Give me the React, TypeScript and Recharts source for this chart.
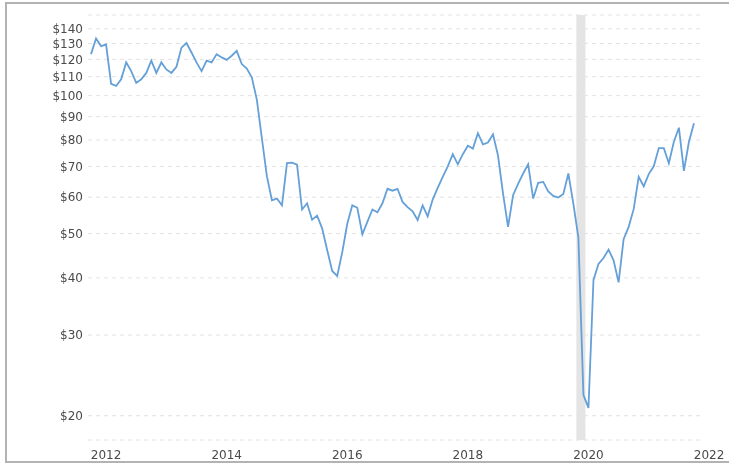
import { LineChart, Line, XAxis, YAxis, CartesianGrid, ReferenceArea } from "recharts";

// monthly closes, Jan..Dec
const price2012 = [123.2, 133.3, 128.3, 129.3, 106.1, 105, 108.6, 118.2, 113.1, 106.6, 108.6, 112.1];
const price2013 = [119.2, 112.1, 118.2, 114.1, 112.1, 115.6, 127.3, 130.3, 124.2, 118.2, 113.1, 119.2];
const price2014 = [118.2, 123.2, 121.2, 119.7, 122.2, 125.2, 117.2, 114.6, 109.6, 98, 80.8, 66.7];
const price2015 = [59.1, 59.6, 57.6, 71.2, 71.4, 70.7, 56.4, 58.2, 53.6, 54.7, 51.3, 46];
const price2016 = [41.4, 40.4, 45.5, 52.5, 57.6, 56.9, 49.8, 53, 56.4, 55.6, 58.2, 62.6];
const price2017 = [62, 62.6, 58.6, 57.1, 55.9, 53.5, 57.6, 54.5, 59.3, 62.9, 66.5, 70.1];
const price2018 = [74.5, 70.8, 74.5, 77.7, 76.6, 82.8, 78.3, 79, 82.3, 74, 61.1, 51.7];
const price2019 = [60.6, 64.2, 67.6, 70.8, 59.6, 64.5, 64.8, 61.8, 60.4, 59.9, 61, 67.6];
const price2020 = [58, 49, 22.2, 20.8, 39.6, 42.9, 44.2, 46.1, 43.7, 39.1, 48.6, 51.7];
const price2021 = [56.5, 66.5, 63.4, 67.4, 70.1, 76.8, 76.8, 71.2, 79.3, 85.1, 68.5, 79.3];
const price2022 = [87];

const years = [2012, 2013, 2014, 2015, 2016, 2017, 2018, 2019, 2020, 2021, 2022];
const yearlyPrices = [price2012, price2013, price2014, price2015, price2016, price2017, price2018, price2019, price2020, price2021, price2022];

const labelYears = [2012, 2014, 2016, 2018, 2020, 2022];
const priceTicks = [20, 30, 40, 50, 60, 70, 80, 90, 100, 110, 120, 130, 140];
const recession = [2020.05, 2020.2];

const data = years.flatMap((y, k) =>
  yearlyPrices[k].map((price, m) => ({ t: y + m / 12, price }))
);

// year labels sit about a quarter in
const xTicks = labelYears.map((y) => y + 0.25);

const tickStyle = { fontSize: 12, fill: "#4a4a4a", fontFamily: "DejaVu Sans, Verdana, sans-serif" };

export default function App() {
  return (
    <>
      <div
        style={{
          position: "fixed",
          top: 2,
          left: 5,
          right: 0,
          height: 461,
          boxSizing: "border-box",
          borderTop: "2px solid #b3b3b3",
          borderLeft: "2px solid #b3b3b3",
          borderBottom: "2px solid #b3b3b3",
        }}
      />
      <div style={{ position: "fixed", top: 0, left: 0 }}>
        <LineChart width={729} height={466} data={data} margin={{ top: 15, right: 29, left: 0, bottom: 0 }}>
          <CartesianGrid vertical={false} stroke="#e2e2e2" strokeDasharray="4 4" />
          <ReferenceArea x1={recession[0]} x2={recession[1]} fill="#e4e4e4" fillOpacity={1} stroke="none" />
          <XAxis
            dataKey="t"
            type="number"
            domain={[2011.95, 2022.1]}
            ticks={xTicks}
            interval={0}
            tickFormatter={(v) => String(Math.floor(v))}
            axisLine={false}
            tickLine={false}
            tickSize={8}
            tickMargin={2}
            height={26}
            tick={tickStyle}
            allowDataOverflow
          />
          <YAxis
            scale="log"
            domain={[17.7, 150]}
            ticks={priceTicks}
            interval={0}
            tickFormatter={(v) => `$${v}`}
            axisLine={false}
            tickLine={false}
            tickSize={3}
            tickMargin={2}
            width={88}
            tick={tickStyle}
            allowDataOverflow
          />
          <Line
            type="linear"
            dataKey="price"
            stroke="#65a0d8"
            strokeWidth={1.8}
            dot={false}
            isAnimationActive={false}
          />
        </LineChart>
      </div>
    </>
  );
}
